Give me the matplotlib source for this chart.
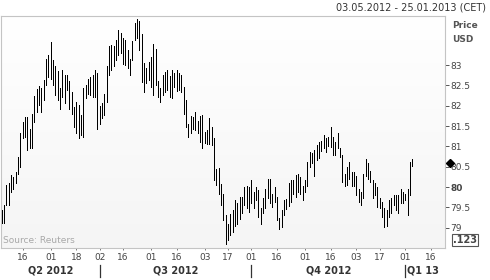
import numpy as np
import pandas as pd
import matplotlib
matplotlib.use("Agg")
import matplotlib.pyplot as plt
import matplotlib.transforms as mtransforms
from matplotlib.colors import LinearSegmentedColormap

# trading days shown on the axis
days = pd.bdate_range("2012-05-03", "2013-01-25")

# daily high / low (USD), 03.05.2012 - 04.01.2013
high = [79.43, 79.55, 80.05, 80.09, 80.29, 80.25, 80.37, 80.74, 81.32, 81.60,
        81.73, 81.73, 81.44, 81.79, 82.24, 82.41, 82.48, 82.43, 82.63, 83.14,
        83.25, 83.57, 83.12, 82.98, 82.86, 82.43, 82.88, 82.75, 82.75, 82.61,
        82.34, 81.97, 82.10, 82.02, 81.77, 82.43, 82.51, 82.65, 82.71, 82.75,
        82.89, 82.80, 81.99, 82.06, 82.29, 82.98, 83.48, 83.49, 83.47, 83.63,
        83.86, 83.80, 83.66, 83.62, 83.37, 83.16, 83.60, 84.04, 84.13, 84.08,
        83.76, 83.06, 82.92, 83.08, 83.20, 83.53, 83.39, 82.61, 82.43, 82.75,
        82.84, 82.89, 82.73, 82.88, 82.81, 82.89, 82.80, 82.75, 82.47, 82.14,
        81.55, 81.74, 81.73, 81.85, 81.63, 81.74, 81.77, 81.36, 81.40, 81.69,
        81.48, 81.20, 80.44, 80.46, 80.07, 79.84, 79.31, 79.08, 79.33, 79.43,
        79.68, 79.60, 79.76, 79.76, 80.00, 80.03, 80.00, 80.17, 79.88, 80.00,
        79.92, 79.49, 79.73, 79.96, 80.21, 80.21, 79.84, 80.00, 79.76, 79.23,
        79.43, 79.68, 79.70, 80.09, 80.17, 80.17, 80.29, 80.33, 80.25, 80.03,
        80.17, 80.62, 80.87, 80.83, 80.91, 81.03, 81.10, 81.13, 81.28, 81.20,
        81.23, 81.48, 81.24, 81.11, 81.32, 80.95, 80.78, 80.33, 80.50, 80.62,
        80.37, 80.37, 80.28, 79.96, 79.88, 80.33, 80.70, 80.58, 80.39, 80.17,
        80.09, 80.00, 79.73, 79.64, 79.49, 79.43, 79.68, 79.72, 79.80, 79.80,
        79.80, 79.95, 79.88, 79.84, 79.96, 80.62, 80.69]
low = [79.11, 79.11, 79.55, 79.55, 79.88, 79.96, 80.09, 80.33, 80.50, 81.20,
       81.24, 80.91, 80.95, 80.97, 81.60, 81.85, 82.02, 81.85, 82.14, 82.51,
       82.71, 82.67, 82.51, 82.26, 82.14, 81.93, 82.22, 82.06, 82.38, 81.93,
       81.81, 81.48, 81.32, 81.20, 81.28, 81.24, 82.18, 82.30, 82.26, 82.22,
       82.22, 81.44, 81.56, 81.69, 81.77, 82.10, 82.75, 82.88, 82.98, 83.12,
       83.25, 83.29, 83.04, 83.00, 82.92, 82.75, 83.12, 83.62, 83.66, 83.37,
       82.59, 82.34, 82.55, 82.63, 82.47, 82.26, 82.51, 82.22, 82.10, 82.26,
       82.34, 82.40, 82.22, 82.20, 82.47, 82.37, 82.38, 82.34, 81.79, 81.47,
       81.24, 81.32, 81.42, 81.40, 81.32, 81.11, 80.97, 81.09, 81.06, 81.07,
       81.03, 80.17, 80.05, 79.82, 79.55, 79.18, 78.61, 78.69, 78.82, 78.90,
       79.04, 79.08, 79.21, 79.35, 79.57, 79.49, 79.38, 79.60, 79.49, 79.68,
       79.27, 79.10, 79.37, 79.49, 79.73, 79.60, 79.51, 79.64, 79.18, 78.96,
       79.02, 79.31, 79.47, 79.54, 79.64, 79.82, 79.76, 79.88, 79.84, 79.68,
       79.88, 80.03, 80.50, 80.58, 80.27, 80.66, 80.71, 80.88, 80.95, 80.86,
       81.01, 80.99, 80.80, 80.80, 80.96, 80.74, 80.13, 80.03, 80.05, 80.21,
       80.03, 80.03, 79.80, 79.62, 79.57, 79.73, 80.28, 80.21, 80.13, 79.72,
       79.80, 79.51, 79.49, 79.27, 79.02, 79.04, 79.27, 79.37, 79.55, 79.43,
       79.37, 79.60, 79.60, 79.68, 79.31, 79.80, 80.52]
last_price = 80.58

tick_dates = ["2012-05-16", "2012-06-01", "2012-06-18", "2012-07-02", "2012-07-16",
              "2012-08-01", "2012-08-16", "2012-09-03", "2012-09-17", "2012-10-01",
              "2012-10-16", "2012-11-01", "2012-11-16", "2012-12-03", "2012-12-17",
              "2013-01-01", "2013-01-16"]
quarter_starts = ["2012-07-02", "2012-10-01", "2013-01-01"]
quarter_names = ["Q2 2012", "Q3 2012", "Q4 2012", "Q1 13"]
price_ticks = [79, 79.5, 80, 80.5, 81, 81.5, 82, 82.5, 83]

W, H = 490, 280
fig = plt.figure(figsize=(W / 100, H / 100), dpi=100)
ax = fig.add_axes([1 / W, (H - 248) / H, 444 / W, 232 / H])

# soft vertical gradient behind the bars
cmap = LinearSegmentedColormap.from_list("bg", ["#f5f5f5", "#ffffff"])
grad = np.linspace(0, 1, 256)[:, None]
ax.imshow(grad, extent=(0, 1, 0, 1), transform=ax.transAxes, aspect="auto",
          cmap=cmap, origin="lower", zorder=0)

x = np.arange(len(high))
ax.vlines(x, low, high, colors="black", linewidth=0.72, antialiased=False, zorder=3)

ax.set_xlim(-0.3, 190)
ax.set_ylim(78.50, 84.21)

for s in ax.spines.values():
    s.set_color("#c4c4c4")
    s.set_linewidth(0.8)

# right price axis
ax.yaxis.tick_right()
ax.set_yticks(price_ticks)
ax.set_yticklabels([f"{v:g}" for v in price_ticks])
ax.tick_params(axis="y", length=3, width=0.7, color="#555555", pad=1,
               labelsize=6.5, labelcolor="#444444")
for lab in ax.get_yticklabels():
    if lab.get_text() == "80":
        lab.set_fontweight("bold")

# date axis
pos = [days.get_loc(pd.Timestamp(d)) for d in tick_dates]
ax.set_xticks(pos)
ax.set_xticklabels([d[-2:] for d in tick_dates])
ax.tick_params(axis="x", length=1.5, width=0.7, color="#777777", pad=2,
               labelsize=6.5, labelcolor="#444444")

blend = mtransforms.blended_transform_factory(ax.transData, ax.transAxes)
qpos = [days.get_loc(pd.Timestamp(d)) for d in quarter_starts]
edges = [-0.3] + qpos
for i, name in enumerate(quarter_names[:3]):
    ax.text((edges[i] + edges[i + 1]) / 2, -0.098, name, transform=blend,
            ha="center", va="center", fontsize=7, fontweight="bold", color="#333333")
for p in qpos:
    ax.plot([p, p], [-0.073, -0.125], transform=blend, color="#333333",
            linewidth=0.9, clip_on=False)
ax.text(qpos[-1] + 0.9, -0.098, quarter_names[3], transform=blend,
        ha="left", va="center", fontsize=7, fontweight="bold", color="#333333")

# last price marker
mark = mtransforms.blended_transform_factory(ax.transAxes, ax.transData)
ax.plot([1 + 5 / 444], [last_price], marker="D", markersize=3.6, color="black",
        transform=mark, clip_on=False, zorder=6)

ax.text(2 / 444, 0.031, "Source: Reuters", transform=ax.transAxes,
        ha="left", va="center", fontsize=6.5, color="#a8a8a8")

fig.text(486 / W, 1 - 8 / H, "03.05.2012 - 25.01.2013 (CET)", ha="right",
         va="center", fontsize=7, color="#333333")
fig.text(452 / W, 1 - 25 / H, "Price", ha="left", va="center", fontsize=6.5,
         fontweight="bold", color="#555555")
fig.text(452 / W, 1 - 40 / H, "USD", ha="left", va="center", fontsize=6.5,
         fontweight="bold", color="#555555")
fig.text(465 / W, 1 - 240 / H, ".123", ha="center", va="center", fontsize=7,
         fontweight="bold", color="#444444",
         bbox=dict(boxstyle="square,pad=0.15", fc="white", ec="#555555", lw=0.8))

fig.savefig("out.png", dpi=100)
